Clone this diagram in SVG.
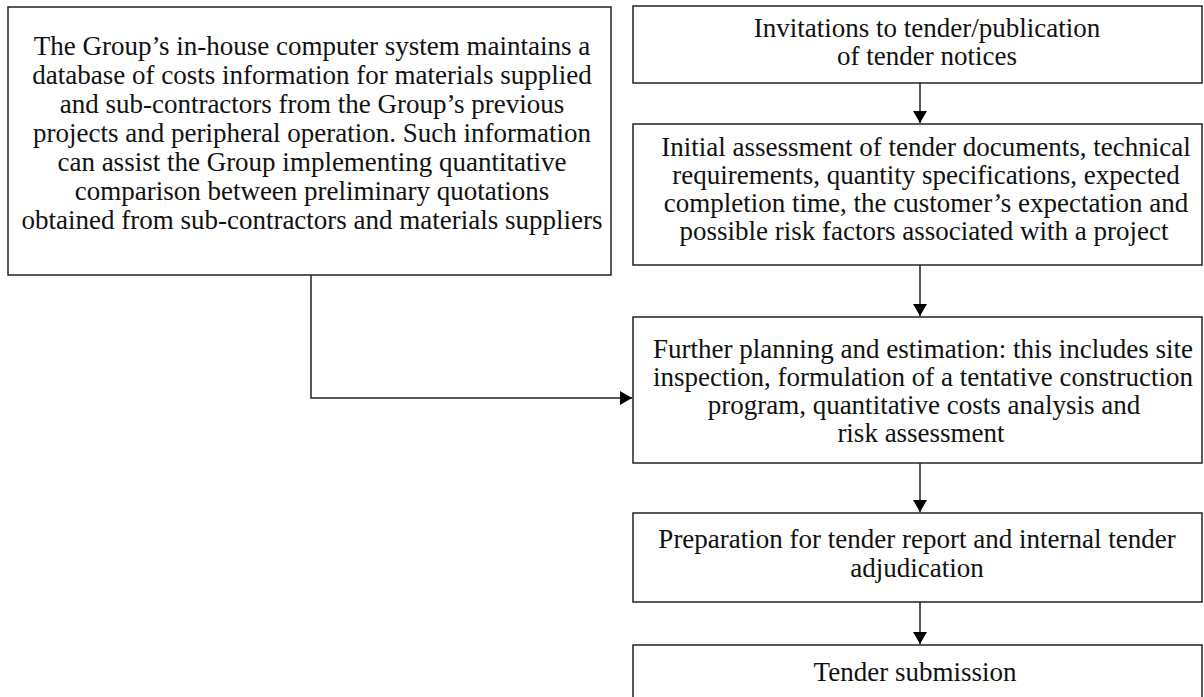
<svg xmlns="http://www.w3.org/2000/svg" width="1204" height="697" viewBox="0 0 1204 697">
<style>
.box{fill:#fff;stroke:#222;stroke-width:1.5}
.t{font-family:"Liberation Serif","Times New Roman",serif;font-size:27px;fill:#111;text-anchor:middle}
.c{fill:none;stroke:#222;stroke-width:1.5}
</style>
<defs>
<marker id="ah" markerWidth="12" markerHeight="14" refX="12" refY="7" orient="auto" markerUnits="userSpaceOnUse">
<path d="M0,0 L12,7 L0,14 Z" fill="#000"/>
</marker>
</defs>
<rect width="1204" height="697" fill="#fff"/>
<g id="connectors">
<path class="c" d="M311,275 V398 H632" marker-end="url(#ah)"/>
<path class="c" d="M920,83 V123" marker-end="url(#ah)"/>
<path class="c" d="M920,265 V316" marker-end="url(#ah)"/>
<path class="c" d="M920,463 V512" marker-end="url(#ah)"/>
<path class="c" d="M920,602 V644" marker-end="url(#ah)"/>
</g>
<g id="database">
<rect class="box" x="8" y="7" width="603" height="268"/>
<text class="t" x="312" y="55">The Group’s in-house computer system maintains a</text>
<text class="t" x="312" y="84">database of costs information for materials supplied</text>
<text class="t" x="312" y="113">and sub-contractors from the Group’s previous</text>
<text class="t" x="312" y="142">projects and peripheral operation.  Such information</text>
<text class="t" x="312" y="171">can assist the Group implementing quantitative</text>
<text class="t" x="312" y="200">comparison between preliminary quotations</text>
<text class="t" x="312" y="229">obtained from sub-contractors and materials suppliers</text>
</g>
<g id="invitations">
<rect class="box" x="633" y="6" width="569" height="77"/>
<text class="t" x="927" y="37">Invitations to tender/publication</text>
<text class="t" x="927" y="65">of tender notices</text>
</g>
<g id="initial">
<rect class="box" x="633" y="124" width="569" height="141"/>
<text class="t" x="926" y="156">Initial assessment of tender documents, technical</text>
<text class="t" x="926" y="184">requirements, quantity specifications, expected</text>
<text class="t" x="926" y="212">completion time, the customer’s expectation and</text>
<text class="t" x="924" y="240">possible risk factors associated with a project</text>
</g>
<g id="planning">
<rect class="box" x="633" y="317" width="569" height="146"/>
<text class="t" x="923" y="358">Further planning and estimation: this includes site</text>
<text class="t" x="923" y="386">inspection, formulation of a tentative construction</text>
<text class="t" x="924" y="414">program, quantitative costs analysis and</text>
<text class="t" x="921" y="442">risk assessment</text>
</g>
<g id="preparation">
<rect class="box" x="633" y="513" width="569" height="89"/>
<text class="t" x="917" y="548">Preparation for tender report and internal tender</text>
<text class="t" x="917" y="577">adjudication</text>
</g>
<g id="submission">
<rect class="box" x="633" y="645" width="569" height="60"/>
<text class="t" x="915" y="681">Tender submission</text>
</g>
</svg>
